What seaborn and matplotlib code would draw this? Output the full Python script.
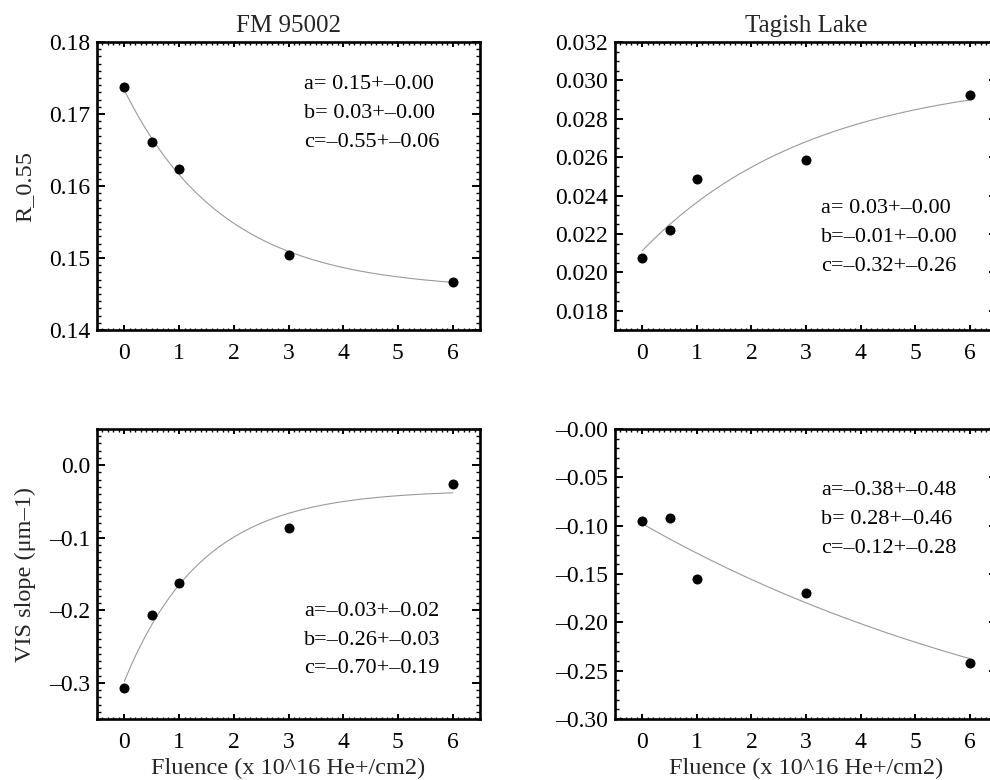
import numpy as np
import pandas as pd
import matplotlib
matplotlib.use("Agg")
import matplotlib.pyplot as plt
from matplotlib.ticker import FixedLocator, FixedFormatter, MultipleLocator
import seaborn as sns

# Irradiation fluence steps (x 10^16 He+/cm2)
fluence = [0, 0.5, 1, 3, 6]

# Measured reflectance at 0.55 um
r055_fm95002 = [0.1737, 0.1661, 0.1624, 0.1504, 0.1467]
r055_tagish = [0.02077, 0.02221, 0.02486, 0.02585, 0.02926]

# Measured visible spectral slope (um^-1)
vis_fm95002 = [-0.3068, -0.2061, -0.1629, -0.0870, -0.0259]
vis_tagish = [-0.0952, -0.0924, -0.1555, -0.1693, -0.2424]

# Exponential fit y = a + b*exp(c*x) for each panel, with 1-sigma errors
# order: R_0.55 FM 95002, R_0.55 Tagish Lake, VIS FM 95002, VIS Tagish Lake
fit_a = [0.1456, 0.03033, -0.034, -0.376]
fit_b = [0.0277, -0.0092, -0.264, 0.278]
fit_c = [-0.55, -0.32, -0.70, -0.1162]
err_a = [0.00, 0.00, 0.02, 0.48]
err_b = [0.00, 0.00, 0.03, 0.46]
err_c = [0.06, 0.26, 0.19, 0.28]

titles = ["FM 95002", "Tagish Lake"]
ylabels = ["R_0.55", "VIS slope (\u03bcm\u20131)"]
xlabel = "Fluence (x 10^16 He+/cm2)"
xtick_labels = ["0", "1", "2", "3", "4", "5", "6"]

ytick_vals = [
    [0.14, 0.15, 0.16, 0.17, 0.18],
    [0.018, 0.020, 0.022, 0.024, 0.026, 0.028, 0.030, 0.032],
    [-0.3, -0.2, -0.1, 0.0],
    [-0.30, -0.25, -0.20, -0.15, -0.10, -0.05, 0.0],
]
ytick_labels = [
    ["0.14", "0.15", "0.16", "0.17", "0.18"],
    ["0.018", "0.020", "0.022", "0.024", "0.026", "0.028", "0.030", "0.032"],
    ["\u20130.3", "\u20130.2", "\u20130.1", "0.0"],
    ["\u20130.30", "\u20130.25", "\u20130.20", "\u20130.15", "\u20130.10", "\u20130.05", "\u20130.00"],
]

sns.set_style("white")
plt.rcParams["font.family"] = ["Liberation Serif", "DejaVu Serif"]
plt.rcParams["axes.unicode_minus"] = False

DASH = "\u2013"


def fmt(v):
    return f"{v: .2f}".replace("-", DASH)


def fit_lines(i):
    return [
        f"a={fmt(fit_a[i])}+{DASH}{err_a[i]:.2f}",
        f"b={fmt(fit_b[i])}+{DASH}{err_b[i]:.2f}",
        f"c={fmt(fit_c[i])}+{DASH}{err_c[i]:.2f}",
    ]


W, H = 990, 780
fig = plt.figure(figsize=(W / 100, H / 100), dpi=100)
fig.patch.set_facecolor("white")

# axes boxes in pixels: left, top, width, height
boxes = [(97, 42, 383, 288), (615, 42, 382, 288),
         (97, 429, 383, 290), (615, 429, 382, 290)]
ylims = [(0.14, 0.18), (0.017, 0.032), (-0.35, 0.05), (-0.30, 0.0)]
yminor = [0.001, 0.0005, 0.01, 0.01]
series = [r055_fm95002, r055_tagish, vis_fm95002, vis_tagish]
text_y = [(0.851, 0.753, 0.651), (0.423, 0.322, 0.220),
          (0.372, 0.272, 0.174), (0.787, 0.688, 0.588)]

xfine = np.linspace(0, 6, 200)

for i in range(4):
    l, t, w, h = boxes[i]
    ax = fig.add_axes([l / W, 1 - (t + h) / H, w / W, h / H])
    ax.set_facecolor("white")

    curve = fit_a[i] + fit_b[i] * np.exp(fit_c[i] * xfine)
    sns.lineplot(x=xfine, y=curve, ax=ax, color="#9a9a9a", linewidth=0.8)
    pts = pd.DataFrame({"fluence": fluence, "value": series[i]})
    sns.scatterplot(data=pts, x="fluence", y="value", ax=ax, color="black",
                    s=52, linewidth=0, zorder=3)

    ax.set_xlim(-0.5, 6.5)
    ax.set_ylim(*ylims[i])
    ax.xaxis.set_major_locator(FixedLocator(range(7)))
    ax.xaxis.set_major_formatter(FixedFormatter(xtick_labels))
    ax.xaxis.set_minor_locator(MultipleLocator(0.1))
    ax.yaxis.set_major_locator(FixedLocator(ytick_vals[i]))
    ax.yaxis.set_major_formatter(FixedFormatter(ytick_labels[i]))
    ax.yaxis.set_minor_locator(MultipleLocator(yminor[i]))

    for sp in ax.spines.values():
        sp.set_visible(True)
        sp.set_linewidth(1.9)
        sp.set_color("black")

    ax.tick_params(axis="both", which="both", direction="in", top=True,
                   right=True, left=True, bottom=True, colors="black",
                   labelsize=17)
    ax.tick_params(axis="x", which="major", length=3.8, width=1.4, pad=9)
    ax.tick_params(axis="x", which="minor", length=1.8, width=1.0)
    ax.tick_params(axis="y", which="major", length=5.6, width=1.4, pad=5)
    ax.tick_params(axis="y", which="minor", length=2.6, width=1.0)

    ax.set_xlabel("")
    ax.set_ylabel("")
    if i < 2:
        ax.set_title(titles[i], fontsize=18, pad=7)
    else:
        ax.set_xlabel(xlabel, fontsize=17.5)
        ax.xaxis.set_label_coords(0.5, -0.135)
    if i % 2 == 0:
        ax.set_ylabel(ylabels[i // 2], fontsize=17.5)
        ax.yaxis.set_label_coords(-0.16, 0.5)

    for line, yy in zip(fit_lines(i), text_y[i]):
        ax.text(0.54, yy, line, transform=ax.transAxes, ha="left",
                va="center", fontsize=16, color="black")

fig.savefig("out.png", dpi=100, facecolor="white")
